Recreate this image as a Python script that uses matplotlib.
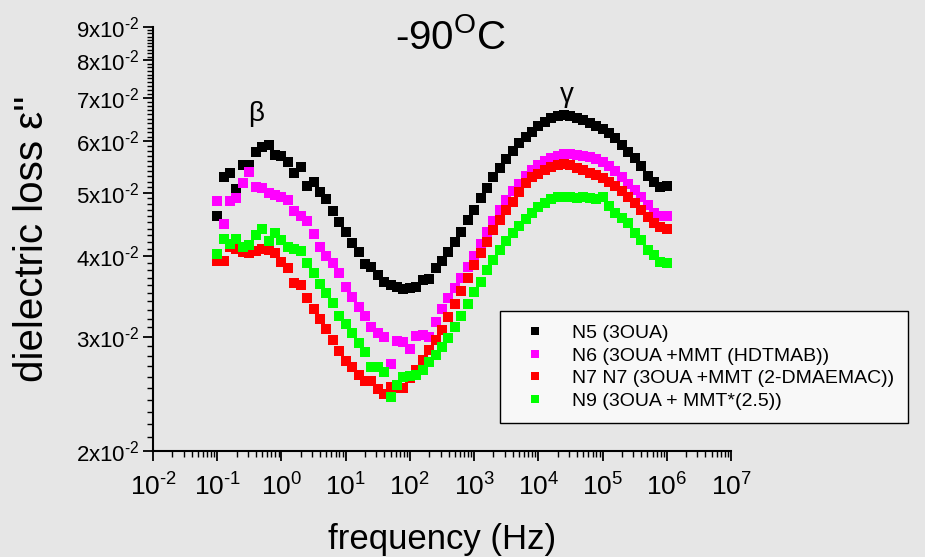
import matplotlib
matplotlib.use("Agg")
import matplotlib.pyplot as plt
import matplotlib.ticker as mticker
import numpy as np

plt.rcParams['font.family'] = ['Liberation Sans', 'DejaVu Sans']
plt.rcParams['mathtext.fontset'] = 'custom'
plt.rcParams['mathtext.rm'] = 'Liberation Sans'
plt.rcParams['mathtext.it'] = 'Liberation Sans:italic'
plt.rcParams['axes.unicode_minus'] = False

# measurement grid: 10 points per decade, 0.1 Hz .. 1 MHz
freq = np.logspace(-1, 6, 71)

# dielectric loss, in units of 1e-2
eps_N5 = [4.60, 5.29, 5.36, 5.07, 5.52, 5.52, 5.78, 5.88, 5.92, 5.72,
          5.70, 5.58, 5.36, 5.48, 5.12, 5.19, 5.01, 4.89, 4.68, 4.51,
          4.35, 4.18, 4.05, 3.88, 3.84, 3.73, 3.64, 3.60, 3.58, 3.55,
          3.56, 3.58, 3.67, 3.68, 3.83, 3.93, 4.05, 4.20, 4.35, 4.54,
          4.70, 4.91, 5.09, 5.29, 5.46, 5.64, 5.80, 5.97, 6.09, 6.20,
          6.34, 6.42, 6.52, 6.57, 6.59, 6.57, 6.52, 6.47, 6.40, 6.34,
          6.27, 6.18, 6.07, 5.92, 5.78, 5.66, 5.50, 5.31, 5.19, 5.10,
          5.12]
eps_N6 = [4.85, 4.47, 4.85, 4.91, 5.18, 5.38, 5.10, 5.09, 4.99, 4.96,
          4.92, 4.87, 4.68, 4.60, 4.52, 4.32, 4.12, 3.99, 3.90, 3.76,
          3.58, 3.45, 3.33, 3.23, 3.10, 3.04, 3.00, 2.72, 2.95, 2.94,
          2.87, 3.01, 3.02, 3.00, 3.16, 3.31, 3.44, 3.56, 3.70, 3.84,
          4.00, 4.17, 4.35, 4.52, 4.70, 4.87, 5.03, 5.16, 5.31, 5.42,
          5.52, 5.60, 5.66, 5.70, 5.74, 5.74, 5.72, 5.70, 5.68, 5.64,
          5.58, 5.50, 5.40, 5.29, 5.16, 5.05, 4.92, 4.79, 4.65, 4.60,
          4.60]
eps_N7 = [3.93, 3.93, 4.12, 4.10, 4.05, 4.04, 4.07, 4.10, 4.08, 4.04,
          3.91, 3.83, 3.63, 3.60, 3.44, 3.31, 3.19, 3.08, 2.96, 2.85,
          2.75, 2.69, 2.62, 2.56, 2.56, 2.49, 2.45, 2.51, 2.50, 2.50,
          2.59, 2.67, 2.76, 2.86, 2.96, 3.07, 3.22, 3.37, 3.53, 3.70,
          3.87, 4.04, 4.20, 4.38, 4.54, 4.70, 4.84, 5.01, 5.17, 5.29,
          5.34, 5.42, 5.48, 5.52, 5.54, 5.52, 5.46, 5.42, 5.36, 5.33,
          5.27, 5.19, 5.12, 5.03, 4.92, 4.82, 4.70, 4.59, 4.49, 4.43,
          4.40]
eps_N9 = [4.02, 4.25, 4.17, 4.25, 4.12, 4.15, 4.30, 4.40, 4.21, 4.33,
          4.23, 4.13, 4.10, 4.07, 3.90, 3.76, 3.62, 3.50, 3.38, 3.23,
          3.14, 3.04, 2.93, 2.84, 2.69, 2.69, 2.65, 2.42, 2.53, 2.60,
          2.61, 2.62, 2.67, 2.74, 2.81, 2.89, 2.99, 3.10, 3.23, 3.37,
          3.52, 3.64, 3.80, 3.94, 4.08, 4.21, 4.33, 4.44, 4.56, 4.65,
          4.75, 4.82, 4.89, 4.92, 4.92, 4.92, 4.91, 4.92, 4.91, 4.89,
          4.92, 4.77, 4.65, 4.57, 4.49, 4.33, 4.23, 4.08, 4.01, 3.91,
          3.90]

labels = ["N5 (3OUA)", "N6 (3OUA +MMT (HDTMAB))",
          "N7 N7 (3OUA +MMT (2-DMAEMAC))", "N9 (3OUA + MMT*(2.5))"]
colors = ["#000000", "#ff00ff", "#ff0000", "#00ff00"]
series = [eps_N5, eps_N6, eps_N7, eps_N9]

x_exps = [-2, -1, 0, 1, 2, 3, 4, 5, 6, 7]
y_mult = [2, 3, 4, 5, 6, 7, 8, 9]

bg = "#e6e6e6"
fig = plt.figure(figsize=(9.25, 5.57), dpi=100, facecolor=bg)
ax = fig.add_axes([0.1654, 0.1903, 0.6249, 0.7612])
ax.set_facecolor(bg)

for vals, lab, c in zip(series, labels, colors):
    ax.plot(freq, np.array(vals) * 1e-2, 's', color=c, ms=6.5, mew=0,
            linestyle='none', label=lab)

ax.set_xscale('log')
ax.set_yscale('log')
ax.set_xlim(1e-2, 1e7)
ax.set_ylim(0.02, 0.09)

ax.xaxis.set_major_locator(mticker.FixedLocator([10.0 ** e for e in x_exps]))
ax.xaxis.set_major_formatter(mticker.FixedFormatter(
    [r'$\mathregular{10^{%s}}$' % (r'\text{-}%d' % -e if e < 0 else '%d' % e)
     for e in x_exps]))
ax.xaxis.set_minor_locator(mticker.LogLocator(base=10, subs=np.arange(2, 10), numticks=20))
ax.xaxis.set_minor_formatter(mticker.NullFormatter())

ax.yaxis.set_major_locator(mticker.FixedLocator([k * 1e-2 for k in y_mult]))
ax.yaxis.set_major_formatter(mticker.FixedFormatter(
    [r'$\mathregular{%dx10^{\text{-}2}}$' % k for k in y_mult]))
ax.yaxis.set_minor_locator(mticker.FixedLocator(np.arange(0.021, 0.09, 0.001)))
ax.yaxis.set_minor_formatter(mticker.NullFormatter())

for s in ['top', 'right']:
    ax.spines[s].set_visible(False)
for s in ['left', 'bottom']:
    ax.spines[s].set_linewidth(1.5)

ax.tick_params(axis='x', which='major', direction='out', length=7, width=1.3,
               labelsize=19, pad=9)
ax.tick_params(axis='x', which='minor', direction='out', length=4, width=1)
ax.tick_params(axis='y', which='major', direction='out', length=7, width=1.3,
               labelsize=16, pad=3)
ax.tick_params(axis='y', which='minor', direction='out', length=4, width=1)

ax.set_xlabel('frequency (Hz)', fontsize=25, labelpad=16)
ax.set_ylabel("dielectric loss ε''", fontsize=29, labelpad=18)

fig.text(0.487, 0.933, r'-90$^{\mathregular{O}}$C', fontsize=29,
         ha='center', va='center')
ax.text(0.4, 0.066, 'β', fontsize=20, ha='center', va='center')
ax.text(2.8e4, 0.0708, 'γ', fontsize=20, ha='center', va='center')

leg = ax.legend(loc='upper left', bbox_to_anchor=(0.5405, 0.4417),
                bbox_transform=fig.transFigure, borderaxespad=0,
                fontsize=14, markerscale=0.8, labelspacing=0.25,
                handletextpad=0.8, borderpad=0.7, handlelength=2.2,
                fancybox=False, framealpha=1, edgecolor='black',
                facecolor='#f8f8f8')
leg.get_frame().set_linewidth(1.0)

fig.savefig('out.png', dpi=100, facecolor=bg)
